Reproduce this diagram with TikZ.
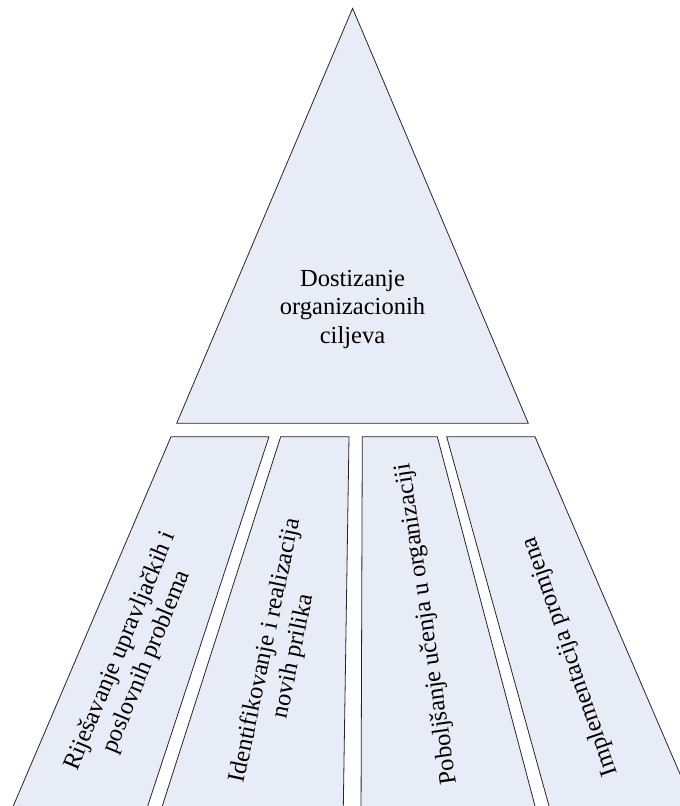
\documentclass[tikz,border=0pt]{standalone}
\usepackage{fontspec}
\setmainfont{Liberation Serif}
\definecolor{fillblue}{RGB}{231,236,247}
\begin{document}
\begin{tikzpicture}[x=1pt,y=-1pt,
  part/.style={fill=fillblue,draw=black!85,line width=0.8pt,line join=miter},
  lbl/.style={font=\fontsize{24.5}{28.5}\selectfont,align=center,inner sep=0pt}]
\useasboundingbox (0,0) rectangle (680,806);
\clip (0,0) rectangle (680,806);
% top triangle
\draw[part] (352.6,8.3) -- (528.3,423.3) -- (176.7,423.3) -- cycle;
\node[lbl] (goal) at (352.5,309) {Dostizanje\\organizacionih\\ciljeva};
% strips
\draw[part] (171,436.7) -- (269,436.7) -- (143.1,820) -- (7.3,820) -- cycle;
\draw[part] (280.7,436.7) -- (349,436.7) -- (343.1,820) -- (157.8,820) -- cycle;
\draw[part] (362.3,436.7) -- (437.3,436.7) -- (538.7,820) -- (361,820) -- cycle;
\draw[part] (446.7,436.7) -- (535,436.7) -- (699.8,820) -- (552.9,820) -- cycle;
\node[lbl,rotate=67.4] (s1) at (134,656.7) {Riješavanje upravljačkih i\\poslovnih problema};
\node[lbl,rotate=78] (s2) at (280,653.3) {Identifikovanje i realizacija\\novih prilika};
\node[lbl,rotate=98.3] (s3) at (427.3,624) {Poboljšanje učenja u organizaciji};
\node[lbl,rotate=109] (s4) at (570.7,656.7) {Implementacija promjena};
\end{tikzpicture}
\end{document}
